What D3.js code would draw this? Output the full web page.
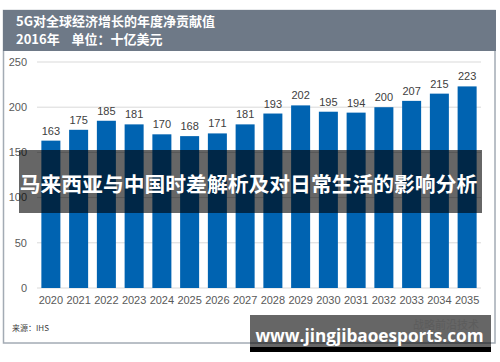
<!DOCTYPE html>
<html>
<head>
<meta charset="utf-8">
<script src="https://cdn.jsdelivr.net/npm/d3@7"></script>
<style>
html,body{margin:0;padding:0;background:#fff;}
svg{display:block;}
</style>
</head>
<body>
<svg id="chart" width="500" height="362"></svg>
<script>
const years = ["2020","2021","2022","2023","2024","2025","2026","2027","2028","2029","2030","2031","2032","2033","2034","2035"];
const values = [163,175,185,181,170,168,171,181,193,202,195,194,200,207,215,223];
const yTicks = [0,50,100,150,200,250];
const titleLine1 = "5G对全球经济增长的年度净贡献值";
const titleLine2 = "2016年    单位：十亿美元";
const sourceText = "来源：IHS";
const bannerText = "马来西亚与中国时差解析及对日常生活的影响分析";
const watermarkText = "www.jingjibaoesports.com";
const faintText = "战略前沿技术";

const svg = d3.select("#chart");
const font = "'Liberation Sans', Arial, 'Noto Sans CJK SC', sans-serif";
const cjk = "'Noto Sans CJK SC', 'Liberation Sans', sans-serif";

// frame
svg.append("rect").attr("x",3.5).attr("y",10.5).attr("width",491.5).attr("height",332.5)
  .attr("fill","#fff").attr("stroke","#a3abb4").attr("stroke-width",1.5);
// title band
svg.append("rect").attr("x",3).attr("y",10).attr("width",493).attr("height",41).attr("fill","#6e7987");
svg.append("text").attr("x",16).attr("y",26).attr("fill","#fff").attr("font-family",cjk)
  .attr("font-size",13).attr("font-weight","bold").text(titleLine1);
svg.append("text").attr("x",16).attr("y",44).attr("fill","#fff").attr("font-family",cjk)
  .attr("font-size",13).attr("font-weight","bold").attr("xml:space","preserve").style("white-space","pre").text(titleLine2);

const x = d3.scaleBand().domain(years).range([37,481]).paddingInner(0.315).paddingOuter(0.1575);
const y = d3.scaleLinear().domain([0,250]).range([288,62]);

// gridlines
svg.append("g").selectAll("line").data(yTicks).join("line")
  .attr("x1",37).attr("x2",481).attr("y1",d=>y(d)).attr("y2",d=>y(d))
  .attr("stroke","#d9d9d9").attr("stroke-width",1);
// y labels
svg.append("g").selectAll("text").data(yTicks).join("text")
  .attr("x",27).attr("y",d=>y(d)).attr("dy","0.35em").attr("text-anchor","end")
  .attr("font-family",font).attr("font-size",11).attr("fill","#595959").text(d=>d);

// bars
svg.append("g").selectAll("rect").data(values).join("rect")
  .attr("x",(d,i)=>x(years[i])).attr("width",x.bandwidth())
  .attr("y",d=>y(d)).attr("height",d=>y(0)-y(d)).attr("fill","#0063b1");
// value labels
svg.append("g").selectAll("text").data(values).join("text")
  .attr("x",(d,i)=>x(years[i])+x.bandwidth()/2).attr("y",d=>y(d)-6)
  .attr("text-anchor","middle").attr("font-family",font).attr("font-size",11)
  .attr("fill","#404040").text(d=>d);
// x labels
svg.append("g").selectAll("text").data(years).join("text")
  .attr("x",d=>x(d)+x.bandwidth()/2).attr("y",304)
  .attr("text-anchor","middle").attr("font-family",font).attr("font-size",11)
  .attr("fill","#595959").text(d=>d);

// source
svg.append("text").attr("x",12).attr("y",331).attr("font-family",cjk).attr("font-size",8)
  .attr("fill","#404040").text(sourceText);

// banner overlay
svg.append("rect").attr("x",19).attr("y",150).attr("width",463).attr("height",63)
  .attr("fill","#000").attr("fill-opacity",0.6);
svg.append("text").attr("x",248.5).attr("y",192).attr("text-anchor","middle")
  .attr("font-family",cjk).attr("font-weight","bold").attr("font-size",20.8)
  .attr("fill","#fff").text(bannerText);

// watermark
svg.append("rect").attr("x",250).attr("y",315).attr("width",241).attr("height",32)
  .attr("fill","#000").attr("fill-opacity",0.6);
svg.append("rect").attr("x",250).attr("y",347).attr("width",241).attr("height",5).attr("fill","#000");
svg.append("text").attr("x",413).attr("y",329).attr("font-family",cjk).attr("font-size",11)
  .attr("fill","#5c5c5c").text(faintText);
svg.append("text").attr("x",369.5).attr("y",341.5).attr("text-anchor","middle")
  .attr("font-family","'Open Sans', 'DejaVu Sans', sans-serif").attr("font-weight","bold")
  .attr("font-size",17.2).attr("fill","#fff").text(watermarkText);
</script>
</body>
</html>
